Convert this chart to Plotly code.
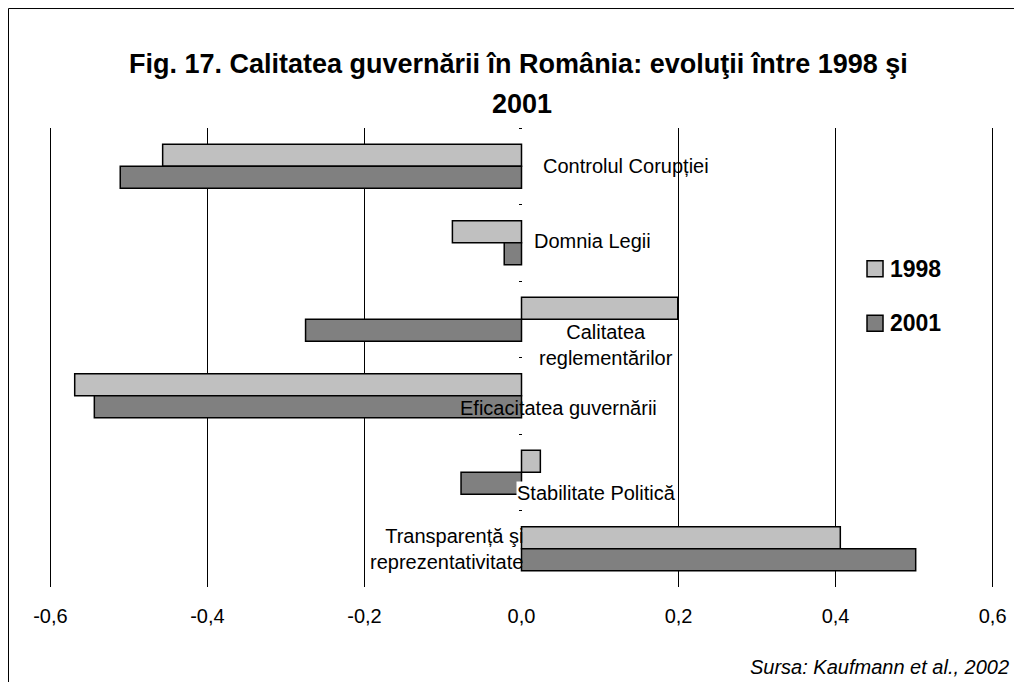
import plotly.graph_objects as go

# indicatori (de sus in jos)
categories = ["Controlul Corupției", "Domnia Legii", "Calitatea reglementărilor",
              "Eficacitatea guvernării", "Stabilitate Politică",
              "Transparență şi reprezentativitate"]
labels = ["Controlul Corupției", "Domnia Legii", "Calitatea<br>reglementărilor",
          "Eficacitatea guvernării", "Stabilitate Politică",
          "Transparență şi<br>reprezentativitate"]
years = ["1998", "2001"]
vals_1998 = [-0.457, -0.088, 0.199, -0.569, 0.024, 0.406]
vals_2001 = [-0.511, -0.022, -0.275, -0.544, -0.077, 0.502]
tick_vals = [-0.6, -0.4, -0.2, 0.0, 0.2, 0.4, 0.6]
tick_text = ["-0,6", "-0,4", "-0,2", "0,0", "0,2", "0,4", "0,6"]

FONT = "Arial, Liberation Sans, sans-serif"
fill = {"1998": "#C0C0C0", "2001": "#808080"}

fig = go.Figure()
for yr, vals in zip(years, [vals_1998, vals_2001]):
    fig.add_trace(go.Bar(y=categories, x=vals, name=yr, orientation="h",
                         showlegend=False,
                         marker=dict(color=fill[yr], line=dict(color="black", width=1.5))))

# etichetele categoriilor, ca in Excel
label_pos = [("left", 20, 0), ("left", 11, 2), ("center", 84, -26),
             ("center", 37, -12), ("center", 75, -21), ("right", 2, 0)]
for cat, lab, (anc, dx, dy) in zip(categories, labels, label_pos):
    fig.add_annotation(x=0, y=cat, xref="x", yref="y", text=lab, showarrow=False,
                       xanchor=anc, yanchor="middle", align=anc,
                       xshift=dx, yshift=dy, borderpad=0,
                       bgcolor="white" if cat == "Stabilitate Politică" else None,
                       font=dict(family=FONT, size=20, color="black"))

# legenda desenata manual (patrat 16px + text)
leg_y = [0.6935, 0.5745]
for yr, ly in zip(years, leg_y):
    fig.add_shape(type="rect", xref="paper", yref="paper",
                  xsizemode="pixel", ysizemode="pixel",
                  xanchor=0.8733, yanchor=ly, x0=-8, x1=8, y0=-8, y1=8,
                  fillcolor=fill[yr], line=dict(color="black", width=1.5))
    fig.add_annotation(x=0.887, y=ly, xref="paper", yref="paper", showarrow=False,
                       xanchor="left", yanchor="middle", text=f"<b>{yr}</b>",
                       font=dict(family=FONT, size=23, color="black"))

# titlu pe doua randuri
fig.add_annotation(x=0.4968, y=1.1394, xref="paper", yref="paper", showarrow=False,
                   yanchor="middle",
                   text="<b>Fig. 17. Calitatea guvernării în România: evoluţii între 1998 şi</b>",
                   font=dict(family=FONT, size=27, color="black"))
fig.add_annotation(x=0.5005, y=1.052, xref="paper", yref="paper", showarrow=False,
                   yanchor="middle",
                   text="<b>2001</b>", font=dict(family=FONT, size=27, color="black"))

fig.add_annotation(x=1.0169, y=-0.1743, xref="paper", yref="paper", showarrow=False,
                   xanchor="right", yanchor="middle",
                   text="<i>Sursa: Kaufmann et al., 2002</i>",
                   font=dict(family=FONT, size=20, color="black"))

# chenarul exterior
fig.add_shape(type="rect", xref="paper", yref="paper", x0=-0.0417, x1=1.5,
              y0=-1, y1=1.2603, line=dict(color="black", width=1), fillcolor="rgba(0,0,0,0)")

fig.update_layout(
    width=1006, height=674,
    margin=dict(l=40, r=19, t=120, b=95),
    paper_bgcolor="white", plot_bgcolor="white",
    barmode="group", bargap=0.425, bargroupgap=0,
    font=dict(family=FONT, size=20, color="black"),
    showlegend=False,
    xaxis=dict(range=[-0.603, 0.603], tickvals=tick_vals, ticktext=tick_text,
               automargin=False,
               showgrid=True, gridcolor="black", gridwidth=1,
               zeroline=True, zerolinecolor="rgba(0,0,0,0)",
               ticks="", ticklabelstandoff=15, showline=False,
               tickfont=dict(family=FONT, size=20)),
    yaxis=dict(autorange="reversed", showticklabels=False, showgrid=False,
               automargin=False,
               anchor="free", position=0.5, tickson="boundaries",
               ticks="outside", ticklen=3, tickcolor="black", showline=False,
               zeroline=False),
)

fig.write_html("out.html")
